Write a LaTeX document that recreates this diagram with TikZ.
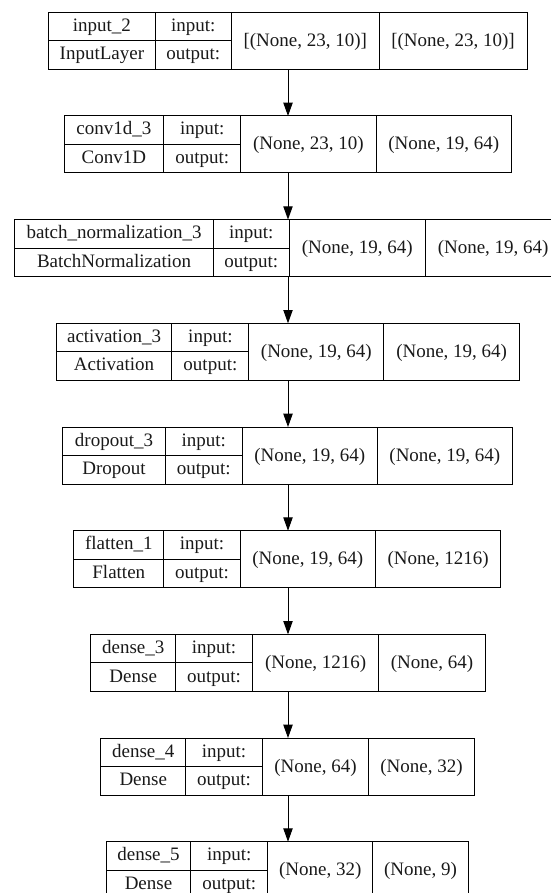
\documentclass[tikz,border=0pt]{standalone}
\usepackage{fontspec}
\setmainfont{Liberation Serif}
\usetikzlibrary{arrows.meta}
\tikzset{
  x=1pt, y=1pt,
  layer/.style={draw, line width=1pt, inner sep=0pt, outer sep=0pt, minimum height=57pt, rectangle},
  cellline/.style={line width=1pt},
  txt/.style={inner sep=0pt, anchor=base, text=black!90, font=\fontsize{19}{22}\selectfont},
  flow/.style={line width=1pt, -{Triangle[length=13.3pt,width=9.3pt]}},
}
% #1 name, #2 top, #3 left, #4 s1, #5 s2, #6 s3, #7 right
\newcommand\layerbox[7]{%
  \pgfmathsetmacro\lyrw{#7-#3}%
  \node[layer, minimum width=\lyrw pt, anchor=north west] (#1) at (#3,-#2) {};
  \draw[cellline] (#4,-#2) -- (#4,-#2-57);
  \draw[cellline] (#5,-#2) -- (#5,-#2-57);
  \draw[cellline] (#6,-#2) -- (#6,-#2-57);
  \draw[cellline] (#3,-#2-28.5) -- (#5,-#2-28.5);
  \coordinate (#1-a) at ({(#3+#4)/2},-#2-19);
  \coordinate (#1-b) at ({(#3+#4)/2},-#2-47.6);
  \coordinate (#1-c) at ({(#4+#5)/2},-#2-19);
  \coordinate (#1-d) at ({(#4+#5)/2},-#2-47.6);
  \coordinate (#1-e) at ({(#5+#6)/2},-#2-34);
  \coordinate (#1-f) at ({(#6+#7)/2},-#2-34);
  \node[txt] (#1-in) at (#1-c) {input:};
  \node[txt] (#1-out) at (#1-d) {output:};
}
% #1 name, #2 layer name, #3 class, #4 in shape, #5 out shape
\newcommand\layertext[5]{%
  \node[txt] (#1-nm) at (#1-a) {#2};
  \node[txt] (#1-cl) at (#1-b) {#3};
  \node[txt] (#1-is) at (#1-e) {#4};
  \node[txt] (#1-os) at (#1-f) {#5};
}
\begin{document}
\begin{tikzpicture}
\useasboundingbox (0,0) rectangle (550,-893);
\coordinate (X) at (288,0);

\layerbox{L1}{12.3}{48.8}{155}{231.5}{379}{527}
\layertext{L1}{input\_2}{InputLayer}{[(None, 23, 10)]}{[(None, 23, 10)]}

\layerbox{L2}{116.0}{64}{163.8}{240.8}{376}{511.4}
\layertext{L2}{conv1d\_3}{Conv1D}{(None, 23, 10)}{(None, 19, 64)}

\layerbox{L3}{219.6}{14.8}{213.4}{289.3}{425.3}{561}
\layertext{L3}{batch\_normalization\_3}{BatchNormalization}{(None, 19, 64)}{(None, 19, 64)}

\layerbox{L4}{323.3}{56.2}{171.9}{248.9}{383.8}{519.5}
\layertext{L4}{activation\_3}{Activation}{(None, 19, 64)}{(None, 19, 64)}

\layerbox{L5}{427.0}{62.9}{165.2}{242.2}{377.2}{512.5}
\layertext{L5}{dropout\_3}{Dropout}{(None, 19, 64)}{(None, 19, 64)}

\layerbox{L6}{530.7}{73.8}{163.8}{240.1}{375.4}{500.9}
\layertext{L6}{flatten\_1}{Flatten}{(None, 19, 64)}{(None, 1216)}

\layerbox{L7}{634.4}{90.7}{175.7}{252.4}{378.9}{485}
\layertext{L7}{dense\_3}{Dense}{(None, 1216)}{(None, 64)}

\layerbox{L8}{738.0}{100.9}{185.6}{262.6}{368.4}{474.5}
\layertext{L8}{dense\_4}{Dense}{(None, 64)}{(None, 32)}

\layerbox{L9}{841.7}{106.2}{190.8}{267.7}{372.7}{468.3}
\layertext{L9}{dense\_5}{Dense}{(None, 32)}{(None, 9)}

\foreach \a/\b in {L1/L2,L2/L3,L3/L4,L4/L5,L5/L6,L6/L7,L7/L8,L8/L9}
  \draw[flow] (\a.south -| X) -- (\b.north -| X);
\end{tikzpicture}
\end{document}
